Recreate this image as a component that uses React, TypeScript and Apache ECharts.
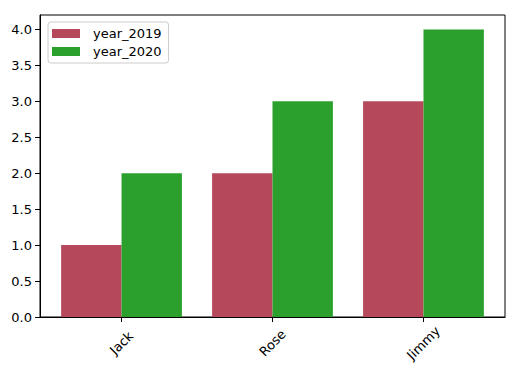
import React, { useEffect, useRef } from "react";
import * as echarts from "echarts";

const categories = ["Jack", "Rose", "Jimmy"];
const year2019 = [1, 2, 3];
const year2020 = [2, 3, 4];
const seriesNames = ["year_2019", "year_2020"];
const yTicks = [0, 0.5, 1, 1.5, 2, 2.5, 3, 3.5, 4];

export default function App() {
  const ref = useRef<HTMLDivElement>(null);
  useEffect(() => {
    if (!ref.current) return;
    const chart = echarts.init(ref.current, null, { renderer: "svg" });
    const font = "DejaVu Sans";
    const idx = categories.map((_, i) => i);
    chart.setOption({
      animation: false,
      backgroundColor: "#ffffff",
      grid: {
        left: 40,
        top: 15,
        right: 14,
        bottom: 61,
        show: true,
        borderColor: "#000",
        borderWidth: 1,
        backgroundColor: "transparent",
      },
      legend: {
        orient: "vertical",
        left: 48,
        top: 22,
        padding: [5, 7, 5, 4],
        itemGap: 5,
        itemWidth: 28,
        itemHeight: 9,
        icon: "rect",
        borderColor: "#cccccc",
        borderWidth: 1,
        borderRadius: 3,
        backgroundColor: "#ffffff",
        textStyle: { fontFamily: font, fontSize: 13, color: "#000", padding: [0, 0, 0, 8] },
        data: seriesNames,
      },
      xAxis: {
        type: "value",
        min: -0.54,
        max: categories.length - 1 + 0.54,
        splitLine: { show: false },
        axisLine: { show: true, onZero: false, lineStyle: { color: "#000", width: 1 } },
        axisTick: { show: true, length: 5, lineStyle: { color: "#000" }, customValues: idx },
        axisLabel: {
          customValues: idx,
          formatter: (v: number) => categories[Math.round(v)] ?? "",
          rotate: 45,
          align: "center",
          verticalAlign: "middle",
          margin: 26,
          fontFamily: font,
          fontSize: 13,
          color: "#000",
        },
      },
      yAxis: {
        type: "value",
        min: 0,
        max: 4.2,
        splitLine: { show: false },
        axisLine: { show: true, onZero: false, lineStyle: { color: "#000", width: 1 } },
        axisTick: { show: true, length: 5, lineStyle: { color: "#000" }, customValues: yTicks },
        axisLabel: {
          customValues: yTicks,
          formatter: (v: number) => v.toFixed(1),
          margin: 8,
          fontFamily: font,
          fontSize: 13,
          color: "#000",
        },
      },
      series: [
        {
          name: seriesNames[0],
          type: "bar",
          barWidth: 60.4,
          barGap: "-100%",
          itemStyle: { color: "#b5495b" },
          data: idx.map((i) => [i - 0.2, year2019[i]]),
        },
        {
          name: seriesNames[1],
          type: "bar",
          barWidth: 60.4,
          barGap: "-100%",
          itemStyle: { color: "#2ca02c" },
          data: idx.map((i) => [i + 0.2, year2020[i]]),
        },
      ],
    });
    return () => chart.dispose();
  }, []);
  return (
    <div
      ref={ref}
      style={{ position: "fixed", left: 0, top: 0, width: 519, height: 378 }}
    />
  );
}
